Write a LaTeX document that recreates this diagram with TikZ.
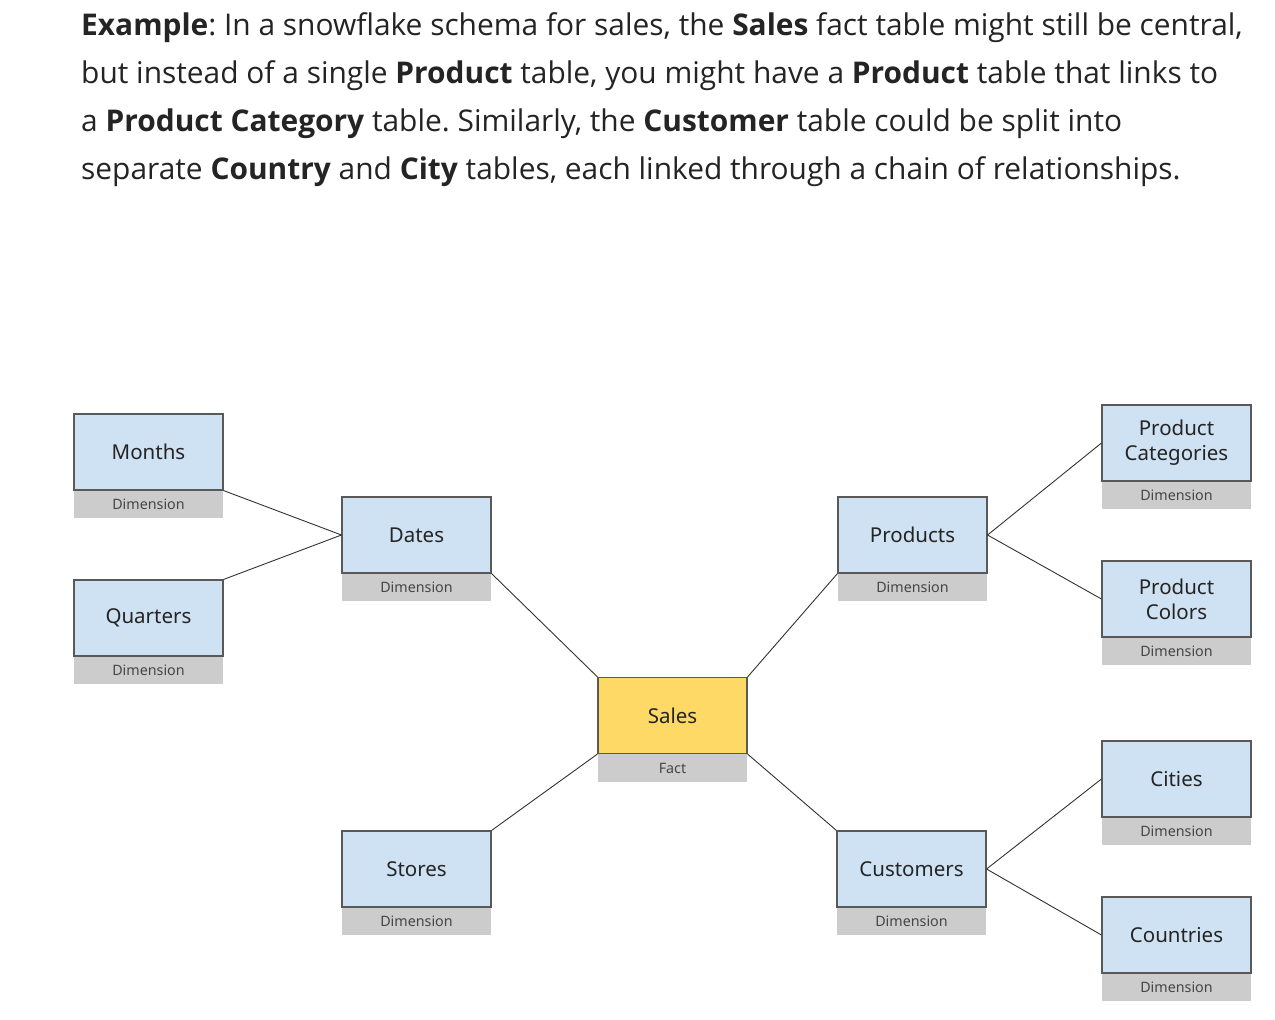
\documentclass[tikz,border=0pt]{standalone}
\usepackage{fontspec}
\setmainfont{Open Sans}
\newfontfamily\boxfont{Noto Sans}
\definecolor{bluefill}{HTML}{CFE2F3}
\definecolor{yellowfill}{HTML}{FFD966}
\definecolor{tagfill}{HTML}{CCCCCC}
\definecolor{edgec}{HTML}{595959}
\definecolor{txtc}{HTML}{242424}
\frenchspacing
\begin{document}
\begin{tikzpicture}[x=1pt,y=-1pt,
  tbl/.style={draw=edgec, line width=1.1pt, fill=bluefill, minimum width=149pt, minimum height=76pt,
    inner sep=0pt, align=center, text=txtc, font=\boxfont\fontsize{20.5}{25}\selectfont},
  fact/.style={tbl, fill=yellowfill},
  tag/.style={fill=tagfill, minimum width=149pt, minimum height=28pt, inner sep=0pt, anchor=north,
    text=txtc!85, font=\boxfont\fontsize{14.3}{16}\selectfont},
  link/.style={draw=black!80, line width=0.9pt},
  para/.style={anchor=base west, inner sep=0pt, text=txtc, font=\fontsize{29.9}{34}\selectfont}]
\useasboundingbox (0,0) rectangle (1275,1020);
\fill[white] (0,0) rectangle (1275,1020);

\node[para] (l1) at (81,35) {\textbf{Example}: In a snowflake schema for sales, the \textbf{Sales} fact table might still be central,};
\node[para] (l2) at (81,83) {but instead of a single \textbf{Product} table, you might have a \textbf{Product} table that links to};
\node[para] (l3) at (81,131) {a \textbf{Product Category} table. Similarly, the \textbf{Customer} table could be split into};
\node[para] (l4) at (81,179) {separate \textbf{Country} and \textbf{City} tables, each linked through a chain of relationships.};

% tags
\node[tag] (tmonths) at (148.5,490) {Dimension};
\node[tag] (tquarters) at (148.5,656) {Dimension};
\node[tag] (tdates) at (416.5,573) {Dimension};
\node[tag] (tstores) at (416.5,907) {Dimension};
\node[tag] (tsales) at (672.5,754) {Fact};
\node[tag] (tproducts) at (912.5,573) {Dimension};
\node[tag] (tcustomers) at (911.5,907) {Dimension};
\node[tag] (tcat) at (1176.5,481) {Dimension};
\node[tag] (tcol) at (1176.5,637) {Dimension};
\node[tag] (tcities) at (1176.5,817) {Dimension};
\node[tag] (tcountries) at (1176.5,973) {Dimension};

% tables
\node[tbl] (months) at (148.5,452) {Months};
\node[tbl] (quarters) at (148.5,618) {Quarters};
\node[tbl] (dates) at (416.5,535) {Dates};
\node[tbl] (stores) at (416.5,869) {Stores};
\node[fact] (sales) at (672.5,715.5) {Sales};
\node[tbl] (products) at (912.5,535) {Products};
\node[tbl] (customers) at (911.5,869) {Customers};
\node[tbl] (cat) at (1176.5,443) {Product\\Categories};
\node[tbl] (col) at (1176.5,599) {Product\\Colors};
\node[tbl] (cities) at (1176.5,779) {Cities};
\node[tbl] (countries) at (1176.5,935) {Countries};

% links
\draw[link] (months.south east) -- (dates.west);
\draw[link] (quarters.north east) -- (dates.west);
\draw[link] (dates.south east) -- (sales.north west);
\draw[link] (stores.north east) -- (sales.south west);
\draw[link] (products.south west) -- (sales.north east);
\draw[link] (customers.north west) -- (sales.south east);
\draw[link] (products.east) -- (cat.west);
\draw[link] (products.east) -- (col.west);
\draw[link] (customers.east) -- (cities.west);
\draw[link] (customers.east) -- (countries.west);
\end{tikzpicture}
\end{document}
